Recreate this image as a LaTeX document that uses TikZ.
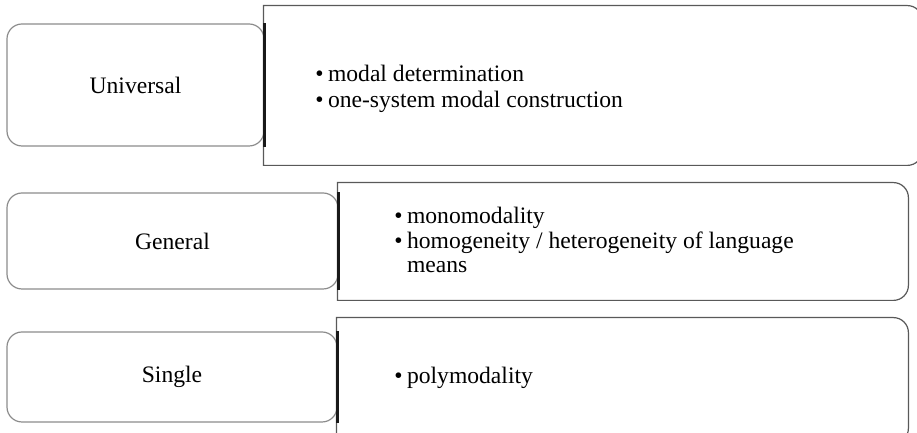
\documentclass[tikz,border=0pt]{standalone}
\usepackage{fontspec}
\setmainfont{Liberation Serif}
\tikzset{
  lbox/.style={draw=black!45, line width=0.6bp, rounded corners=7.5bp, inner sep=0pt, font=\fontsize{11.8bp}{13bp}\selectfont},
  rbox/.style={draw=none, inner sep=0pt},
  rline/.style={draw=black!65, line width=0.6bp},
  junction/.style={draw=black!90, line width=1.3bp},
  btext/.style={inner sep=0pt, anchor=west, align=left, font=\fontsize{11.8bp}{12.2bp}\selectfont},
}
\newcommand{\bul}{\textbullet\hspace{2.2bp}}
\begin{document}
\begin{tikzpicture}[x=0.5bp, y=0.5bp]
\useasboundingbox (0,0) rectangle (917,433);
% row 1
\node[rbox, minimum width=329bp, minimum height=79.5bp] (R1) at (593,347.5) {};
\draw[rline] (R1.south west) -- (R1.north west) -- ([xshift=-7.5bp]R1.north east)
  arc[start angle=90, end angle=0, radius=7.5bp] -- ([yshift=7.5bp]R1.south east)
  arc[start angle=0, end angle=-90, radius=7.5bp] -- cycle;
\node[lbox, minimum width=128.5bp, minimum height=61bp] (L1) at (135.5,348) {Universal};
\draw[junction] (L1.north east) -- (L1.south east);
\node[btext, font=\fontsize{11.8bp}{13.3bp}\selectfont] (T1) at (315,344) {\bul modal determination\\\bul one-system modal construction};
% row 2
\node[rbox, minimum width=285bp, minimum height=58.5bp] (R2) at (623,191.5) {};
\draw[rline] (R2.south west) -- (R2.north west) -- ([xshift=-7.5bp]R2.north east)
  arc[start angle=90, end angle=0, radius=7.5bp] -- ([yshift=7.5bp]R2.south east)
  arc[start angle=0, end angle=-90, radius=7.5bp] -- cycle;
\node[lbox, minimum width=165.5bp, minimum height=48bp] (L2) at (172.5,192) {General};
\draw[junction] (L2.north east) -- (L2.south east);
\node[btext] (T2) at (394,193) {\bul monomodality\\\bul homogeneity / heterogeneity of language\\\hphantom{\bul}means};
% row 3
\node[rbox, minimum width=285.5bp, minimum height=62.5bp] (R3) at (622.5,52.5) {};
\draw[rline] (R3.south west) -- (R3.north west) -- ([xshift=-7.5bp]R3.north east)
  arc[start angle=90, end angle=0, radius=7.5bp] -- ([yshift=7.5bp]R3.south east)
  arc[start angle=0, end angle=-90, radius=7.5bp] -- cycle;
\node[lbox, minimum width=165bp, minimum height=45bp] (L3) at (172,56) {Single};
\draw[junction] (L3.north east) -- (L3.south east);
\node[btext] (T3) at (394,55) {\bul polymodality};
\end{tikzpicture}
\end{document}
